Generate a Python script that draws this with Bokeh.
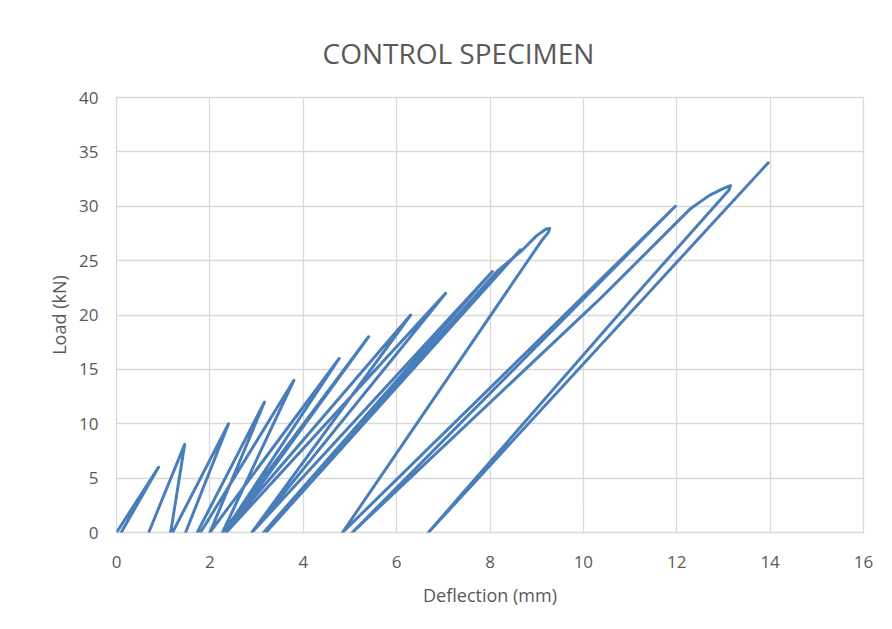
from bokeh.plotting import figure
from bokeh.models import Range1d, FixedTicker
from bokeh.embed import file_html
from bokeh.resources import INLINE

nan = float("nan")

# Load-deflection record (cycles separated by NaN)
deflection = [
    0.00, 0.90, 0.10, nan,
    0.69, 1.46, 1.16, nan,
    1.20, 2.40, 1.48, nan,
    1.73, 3.17, 2.00, nan,
    1.80, 3.80, 2.27, nan,
    2.00, 4.77, 2.30, nan,
    2.27, 5.40, 2.35, nan,
    2.30, 6.30, 2.90, nan,
    2.35, 7.05, 2.90, nan,
    2.90, 8.05, 3.15, nan,
    3.15, 8.65, 3.20, nan,
    3.20, 8.15, 8.70, 9.00, 9.20, 9.28, 9.25, 9.10, 4.84,
    11.97, 5.05,
    10.36, 12.30, 12.70, 12.98, 13.15, 13.12, 11.05, 6.68,
    13.96,
]
load = [
    0.0, 6.0, 0.0, nan,
    0.0, 8.1, 0.0, nan,
    0.0, 10.0, 0.0, nan,
    0.0, 12.0, 0.0, nan,
    0.0, 14.0, 0.0, nan,
    0.0, 16.0, 0.0, nan,
    0.0, 18.0, 0.0, nan,
    0.0, 20.0, 0.0, nan,
    0.0, 22.0, 0.0, nan,
    0.0, 24.0, 0.0, nan,
    0.0, 26.0, 0.0, nan,
    0.0, 24.0, 26.0, 27.3, 27.9, 27.95, 27.6, 26.8, 0.0,
    30.0, 0.0,
    21.5, 29.8, 31.0, 31.6, 31.9, 31.5, 21.5, 0.0,
    34.0,
]

x_ticks = [0, 2, 4, 6, 8, 10, 12, 14, 16]
y_ticks = [0, 5, 10, 15, 20, 25, 30, 35, 40]

TEXT = "#595959"
GRID = "#d9d9d9"
FONT = "Open Sans"

p = figure(
    frame_width=747, frame_height=435,
    min_border_left=116, min_border_right=21,
    min_border_top=97, min_border_bottom=80,
    x_range=Range1d(0, 16), y_range=Range1d(0, 40),
    output_backend="svg", toolbar_location=None,
    title="CONTROL SPECIMEN",
)

p.line(deflection, load, line_color="#4a7ebb", line_width=3,
       line_join="round", line_cap="round")

p.title.text_font = FONT
p.title.text_font_size = "28px"
p.title.text_font_style = "normal"
p.title.text_color = TEXT
p.title.align = "left"
p.title.offset = 206
p.title.standoff = 51

p.xaxis.ticker = FixedTicker(ticks=x_ticks)
p.yaxis.ticker = FixedTicker(ticks=y_ticks)
p.xaxis.axis_label = "Deflection (mm)"
p.yaxis.axis_label = "Load (kN)"

for ax in (p.xaxis, p.yaxis):
    ax.axis_line_color = None
    ax.major_tick_line_color = None
    ax.minor_tick_line_color = None
    ax.major_label_text_font = FONT
    ax.major_label_text_font_size = "17px"
    ax.major_label_text_color = TEXT
    ax.axis_label_text_font = FONT
    ax.axis_label_text_font_size = "18px"
    ax.axis_label_text_font_style = "normal"
    ax.axis_label_text_color = TEXT

p.xaxis.major_label_standoff = 17
p.xaxis.axis_label_standoff = 12
p.yaxis.major_label_standoff = 12
p.yaxis.axis_label_standoff = 5

p.xgrid.grid_line_color = GRID
p.ygrid.grid_line_color = GRID
p.xgrid.grid_line_width = 1.3
p.ygrid.grid_line_width = 1.3
p.outline_line_color = GRID
p.outline_line_width = 1.3

open("out.html", "w").write(file_html(p, INLINE))
